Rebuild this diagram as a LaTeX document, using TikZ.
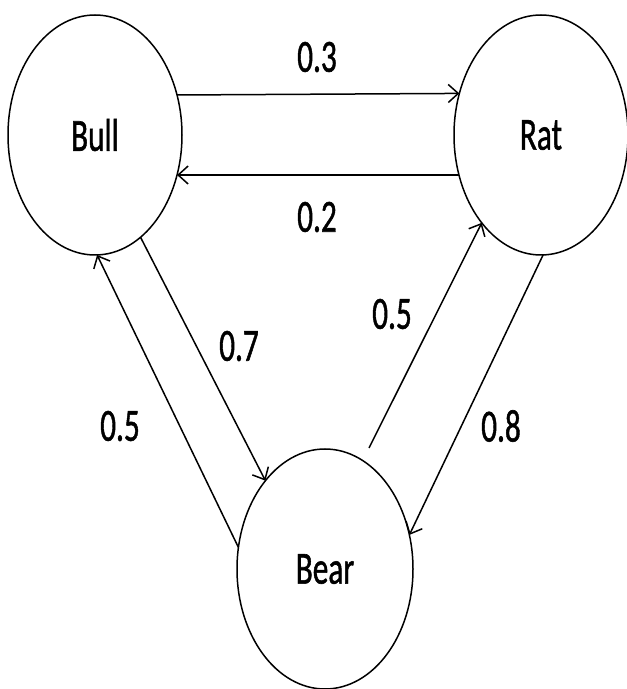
\documentclass[tikz,border=0pt]{standalone}
\usepackage{fontspec}
\setmainfont[FakeBold=1.3]{Carlito}
\usetikzlibrary{shapes.geometric,arrows.meta}
\newcommand{\sqtext}[1]{\scalebox{0.68}[1]{\fontsize{46}{46}\selectfont #1}}
\begin{document}
\begin{tikzpicture}[x=1pt,y=1pt,
  state/.style={ellipse,draw,line width=1.5pt,minimum width=174pt,minimum height=240pt,inner sep=0pt,outer sep=0pt},
  lab/.style={inner sep=0pt},
  conn/.style={line width=1.5pt,-{Straight Barb[length=10pt,width=18pt,line width=1.5pt]}}]
\useasboundingbox (0,0) rectangle (627,689);
\node[state] (bull) at (95,554) {\sqtext{Bull}};
\node[state] (rat) at (541,554) {\sqtext{Rat}};
\node[state,minimum width=176pt] (bear) at (325,120) {\sqtext{Bear}};
\draw[conn] (bull.26.9) -- (rat.153.1);
\draw[conn] (rat.206.9) -- (bull.-26.9);
\draw[conn] (bull.-66.5) -- (bear.124.7);
\draw[conn] (bear.166) -- (bull.-89);
\coordinate (bearfree) at (369,241);
\draw[conn] (bearfree) -- (rat.236.3);
\draw[conn] (rat.-89) -- (bear.22);
\node[lab] (l03) at (317,632) {\sqtext{0.3}};
\node[lab] (l02) at (317,472) {\sqtext{0.2}};
\node[lab] (l07) at (239,343) {\sqtext{0.7}};
\node[lab] (l05a) at (120,263) {\sqtext{0.5}};
\node[lab] (l05b) at (392,375) {\sqtext{0.5}};
\node[lab] (l08) at (501,263) {\sqtext{0.8}};
\end{tikzpicture}
\end{document}
